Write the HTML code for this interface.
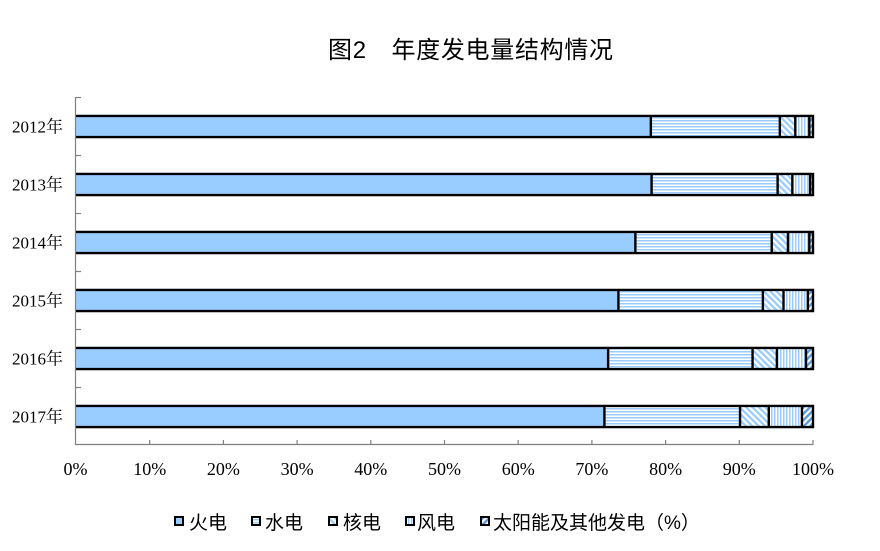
<!DOCTYPE html>
<html>
<head>
<meta charset="utf-8">
<style>
  html, body { margin: 0; padding: 0; background: #ffffff; }
  body { width: 880px; height: 551px; overflow: hidden; }
  svg { display: block; }
  .cat { font-family: "Liberation Serif", "Noto Serif CJK SC", serif; font-size: 17px; fill: #000; }
  .xl { font-family: "Liberation Serif", "Noto Serif CJK SC", serif; font-size: 18px; fill: #000; }
  .lg { font-family: "Liberation Sans", "Noto Sans CJK SC", sans-serif; font-size: 19px; fill: #000; }
  .tt { font-family: "Liberation Sans", "Noto Sans CJK SC", sans-serif; font-size: 24px; fill: #000; letter-spacing: 0.7px; }
</style>
</head>
<body>
<svg width="880" height="551" viewBox="0 0 880 551" xmlns="http://www.w3.org/2000/svg">
  <defs>
    <pattern id="hydro" patternUnits="userSpaceOnUse" width="6" height="3">
      <rect width="6" height="3" fill="#ffffff"/>
      <rect y="0" width="6" height="1.5" fill="#99ccff"/>
    </pattern>
    <pattern id="wind" patternUnits="userSpaceOnUse" width="3" height="6">
      <rect width="3" height="6" fill="#ffffff"/>
      <rect x="0" width="1.5" height="6" fill="#99ccff"/>
    </pattern>
    <pattern id="nuc" patternUnits="userSpaceOnUse" width="4.5" height="4.5" patternTransform="rotate(-45)">
      <rect width="4.5" height="4.5" fill="#ffffff"/>
      <rect x="0" width="2.3" height="4.5" fill="#99ccff"/>
    </pattern>
    <pattern id="sol" patternUnits="userSpaceOnUse" width="4.5" height="4.5" patternTransform="rotate(45)">
      <rect width="4.5" height="4.5" fill="#ffffff"/>
      <rect x="0" width="2.4" height="4.5" fill="#5a9be0"/>
    </pattern>
  </defs>

  <!-- Title -->
  <text class="tt" x="328" y="58">图2　年度发电量结构情况</text>

  <!-- Bars -->
  <g id="bars"></g>

  <!-- Axes -->
  <line x1="75.5" y1="97" x2="75.5" y2="445" stroke="#808080" stroke-width="1.2"/>
  <line x1="75.5" y1="444.5" x2="813.5" y2="444.5" stroke="#808080" stroke-width="1.2"/>
  <g stroke="#808080" stroke-width="1.2">
    <line x1="76" y1="97.5" x2="81" y2="97.5"/>
    <line x1="76" y1="155.5" x2="81" y2="155.5"/>
    <line x1="76" y1="213.5" x2="81" y2="213.5"/>
    <line x1="76" y1="271.5" x2="81" y2="271.5"/>
    <line x1="76" y1="329.5" x2="81" y2="329.5"/>
    <line x1="76" y1="387.5" x2="81" y2="387.5"/>
    <line x1="149.7" y1="440" x2="149.7" y2="445"/>
    <line x1="223.4" y1="440" x2="223.4" y2="445"/>
    <line x1="297.1" y1="440" x2="297.1" y2="445"/>
    <line x1="370.8" y1="440" x2="370.8" y2="445"/>
    <line x1="444.5" y1="440" x2="444.5" y2="445"/>
    <line x1="518.2" y1="440" x2="518.2" y2="445"/>
    <line x1="591.9" y1="440" x2="591.9" y2="445"/>
    <line x1="665.6" y1="440" x2="665.6" y2="445"/>
    <line x1="739.3" y1="440" x2="739.3" y2="445"/>
    <line x1="813" y1="440" x2="813" y2="445"/>
  </g>

  <!-- Category labels -->
  <text class="cat" x="63" y="132.5" text-anchor="end">2012年</text>
  <text class="cat" x="63" y="190.5" text-anchor="end">2013年</text>
  <text class="cat" x="63" y="248.5" text-anchor="end">2014年</text>
  <text class="cat" x="63" y="306.5" text-anchor="end">2015年</text>
  <text class="cat" x="63" y="364.5" text-anchor="end">2016年</text>
  <text class="cat" x="63" y="422.5" text-anchor="end">2017年</text>

  <!-- X labels -->
  <g class="xl" text-anchor="middle">
    <text x="75.5" y="475">0%</text>
    <text x="149.7" y="475">10%</text>
    <text x="223.4" y="475">20%</text>
    <text x="297.1" y="475">30%</text>
    <text x="370.8" y="475">40%</text>
    <text x="444.5" y="475">50%</text>
    <text x="518.2" y="475">60%</text>
    <text x="591.9" y="475">70%</text>
    <text x="665.6" y="475">80%</text>
    <text x="739.3" y="475">90%</text>
    <text x="813" y="475">100%</text>
  </g>

  <!-- Legend -->
  <rect x="175" y="517" width="8" height="8" fill="#99ccff" stroke="#000" stroke-width="2"/>
  <text class="lg" x="189" y="529">火电</text>
  <rect x="252" y="517" width="8" height="8" fill="url(#hydro)" stroke="#000" stroke-width="2"/>
  <text class="lg" x="265" y="529">水电</text>
  <rect x="329" y="517" width="8" height="8" fill="url(#nuc)" stroke="#000" stroke-width="2"/>
  <text class="lg" x="343" y="529">核电</text>
  <rect x="406" y="517" width="8" height="8" fill="url(#wind)" stroke="#000" stroke-width="2"/>
  <text class="lg" x="417" y="529">风电</text>
  <rect x="481" y="517" width="8" height="8" fill="url(#sol)" stroke="#000" stroke-width="2"/>
  <text class="lg" x="493" y="529">太阳能及其他发电（%）</text>
</svg>
<script>
(function(){
  var ns = "http://www.w3.org/2000/svg";
  var g = document.getElementById("bars");
  var data = [
    [78.0, 95.5, 97.6, 99.5],
    [78.1, 95.2, 97.2, 99.6],
    [75.9, 94.4, 96.6, 99.5],
    [73.6, 93.2, 96.0, 99.3],
    [72.2, 91.8, 95.1, 99.05],
    [71.7, 90.1, 94.0, 98.5]
  ];
  var fills = ["#99ccff", "url(#hydro)", "url(#nuc)", "url(#wind)", "url(#sol)"];
  function X(p){ return 76 + p * 7.37; }
  for (var i = 0; i < data.length; i++) {
    var yc = 126.5 + 58 * i;
    var top = yc - 10.6, h = 21.2;
    var b = [0].concat(data[i]).concat([100]);
    for (var k = 0; k < 5; k++) {
      var r = document.createElementNS(ns, "rect");
      r.setAttribute("x", X(b[k]));
      r.setAttribute("y", top);
      r.setAttribute("width", Math.max(0, X(b[k+1]) - X(b[k])));
      r.setAttribute("height", h);
      r.setAttribute("fill", fills[k]);
      g.appendChild(r);
    }
    var p = document.createElementNS(ns, "path");
    var d = "M" + X(0) + " " + top + " H" + X(100) + " V" + (top + h) + " H" + X(0);
    for (var k = 1; k <= 4; k++) {
      d += " M" + X(b[k]) + " " + top + " V" + (top + h);
    }
    p.setAttribute("d", d);
    p.setAttribute("fill", "none");
    p.setAttribute("stroke", "#000");
    p.setAttribute("stroke-width", "2.4");
    g.appendChild(p);
  }
})();
</script>
</body>
</html>
